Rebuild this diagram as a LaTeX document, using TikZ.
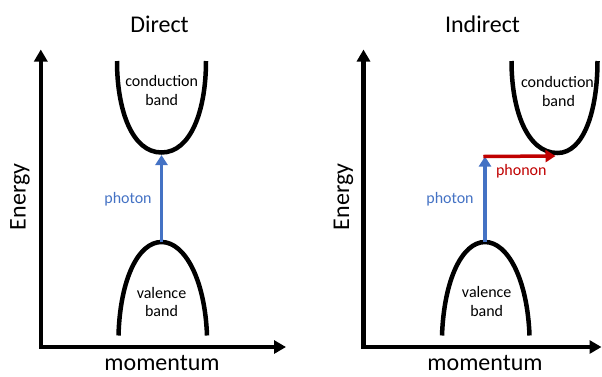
\documentclass[tikz,border=0pt]{standalone}
\usepackage{fontspec}
\setmainfont{Carlito}
\usetikzlibrary{arrows.meta}
\definecolor{photonblue}{HTML}{4472C4}
\definecolor{phononred}{HTML}{C00000}
\begin{document}
\begin{tikzpicture}[x=1pt,y=-1pt,
  axis/.style={line width=4.5pt,line cap=rect,-{Triangle[length=12pt,width=13pt]}},
  bandline/.style={line width=4.5pt},
  phot/.style={line width=3.5pt,photonblue,-{Triangle[length=10pt,width=12pt]}},
  phon/.style={line width=3.5pt,phononred,-{Triangle[length=10pt,width=12pt]}},
  title/.style={font=\fontsize{24}{28}\selectfont,anchor=base,inner sep=0pt},
  lab/.style={font=\fontsize{16}{19}\selectfont,anchor=base,inner sep=0pt},
]
\useasboundingbox (0,0) rectangle (602,376);

% ---------- Direct ----------
\coordinate (oA) at (40.8,347);
\coordinate (yA) at (40.8,49.5);
\coordinate (xA) at (286,347);
\draw[axis] (oA) -- (yA);
\draw[axis] (oA) -- (xA);

\coordinate (cAl) at (117,61);
\coordinate (cAb) at (161.5,152.5);
\coordinate (cAr) at (206,61);
\draw[bandline] (cAl) .. controls (117,110) and (132,152.5) .. (cAb)
  .. controls (191,152.5) and (206,110) .. (cAr);

\coordinate (vAl) at (118.5,335.5);
\coordinate (vAt) at (161.5,242);
\coordinate (vAr) at (207,335.5);
\draw[bandline] (vAl) .. controls (120,280) and (138,242) .. (vAt)
  .. controls (185,242) and (205,280) .. (vAr);

\draw[phot] (vAt) -- ([yshift=-2.5pt]cAb);

\node[title] (tA) at (159.5,32) {Direct};
\node[title] (mA) at (162,370.5) {momentum};
\node[font=\fontsize{24}{28}\selectfont,rotate=90,inner sep=0pt] (eA) at (20,197) {Energy};
\node[lab] (cA1) at (161.7,86.7) {conduction};
\node[lab] (cA2) at (161.7,105.5) {band};
\node[lab] (vA1) at (161.5,298.3) {valence};
\node[lab] (vA2) at (161.5,316.8) {band};
\node[lab,text=photonblue] (phA) at (128,203.3) {photon};

% ---------- Indirect ----------
\coordinate (oB) at (363.5,347);
\coordinate (yB) at (363.5,49.5);
\coordinate (xB) at (601.5,347);
\draw[axis] (oB) -- (yB);
\draw[axis] (oB) -- (xB);

\coordinate (cBl) at (511.5,61);
\coordinate (cBb) at (557.5,153);
\coordinate (cBr) at (597.5,61);
\draw[bandline] (cBl) .. controls (511.5,110) and (527,153) .. (cBb)
  .. controls (584,153) and (597.5,110) .. (cBr);

\coordinate (vBl) at (442,335.5);
\coordinate (vBt) at (485,242);
\coordinate (vBr) at (529.5,335.5);
\draw[bandline] (vBl) .. controls (444,280) and (462,242) .. (vBt)
  .. controls (508,242) and (527.5,280) .. (vBr);

\coordinate (jB) at (485,156.5);
\coordinate (pBend) at (555.5,156);
\draw[phot] (vBt) -- (jB);
\draw[phon] ([xshift=-1.75pt]jB) -- (pBend);

\node[title] (tB) at (482.5,32) {Indirect};
\node[title] (mB) at (485,370.5) {momentum};
\node[font=\fontsize{24}{28}\selectfont,rotate=90,inner sep=0pt] (eB) at (343.5,197) {Energy};
\node[lab] (cB1) at (557.5,87.3) {conduction};
\node[lab] (cB2) at (558.5,106) {band};
\node[lab] (vB1) at (486.7,297.7) {valence};
\node[lab] (vB2) at (486.7,316.2) {band};
\node[lab,text=photonblue] (phB) at (450,203.3) {photon};
\node[lab,text=phononred] (pnB) at (521.3,175) {phonon};
\end{tikzpicture}
\end{document}
